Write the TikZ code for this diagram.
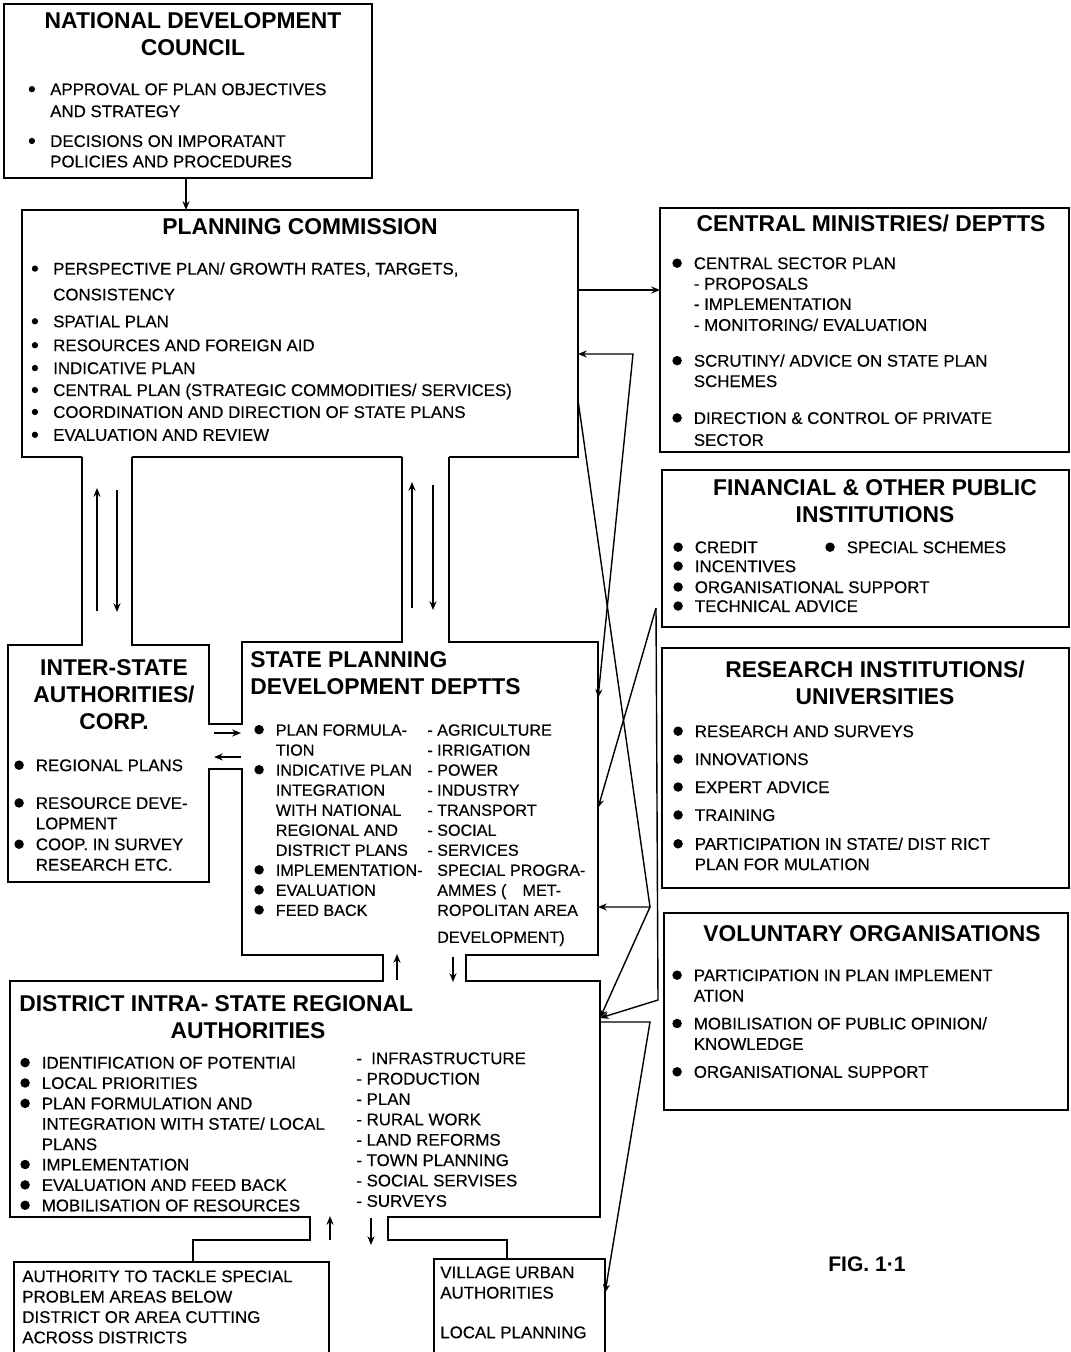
\documentclass[tikz,border=0pt]{standalone}
\usepackage{fontspec}
\setmainfont{Liberation Sans}
\newfontfamily\bodyfont{Liberation Sans}[FakeBold=0.35]
\usetikzlibrary{arrows.meta}

\newcommand\bul[1][2.7pt]{\makebox[0.43cm][l]{\tikz[baseline=-3.4pt]\fill (#1,0) circle (#1);}}
\newcommand\ind{\hspace*{0.43cm}}

\tikzset{
  box/.style={line width=1pt},
  ttl/.style={font=\fontsize{13}{15.3}\selectfont\bfseries, align=center, inner sep=0, anchor=north},
  txt/.style={font=\bodyfont\fontsize{9.6}{11.6}\selectfont, align=left, inner sep=0, anchor=north west},
  link/.style={line width=0.8pt, -{Stealth[length=5pt,width=4pt]}},
  twoway/.style={line width=0.8pt, {Stealth[length=5pt,width=4pt]}-{Stealth[length=5pt,width=4pt]}},
}

\begin{document}
\begin{tikzpicture}[x=0.02cm,y=-0.02cm]
\useasboundingbox (0,0) rectangle (1071,1352);

\draw[box] (4,4) rectangle (372,178);
\draw[box] (82,457) -- (22,457) -- (22,210) -- (578,210) -- (578,457) -- (449,457);
\draw[box] (132,457) -- (402,457);
\draw[box] (82,457) -- (82,645) -- (8,645) -- (8,882) -- (209,882) -- (209,769) -- (242,769) -- (242,955) -- (383,955) -- (383,981) -- (10,981) -- (10,1217) -- (310,1217) -- (310,1240) -- (193,1240) -- (193,1262);
\draw[box] (132,457) -- (132,645) -- (209,645) -- (209,724) -- (242,724) -- (242,642) -- (402,642) -- (402,457);
\draw[box] (449,457) -- (449,642) -- (598,642) -- (598,955) -- (466,955) -- (466,981) -- (600,981) -- (600,1217) -- (388,1217) -- (388,1240) -- (507,1240) -- (507,1259);
\draw[box] (14,1352) -- (14,1262) -- (329,1262) -- (329,1352);
\draw[box] (434,1352) -- (434,1259) -- (605,1259) -- (605,1352);
\draw[box] (660,208) rectangle (1069,452);
\draw[box] (662,470) rectangle (1069,627);
\draw[box] (662,648) rectangle (1069,888);
\draw[box] (664,913) rectangle (1068,1110);

\node[ttl] (ndcT) at (193,12) {NATIONAL DEVELOPMENT\\COUNCIL};
\node[txt] (ndcL) at (28.4,83) {\bul[1.8pt]APPROVAL OF PLAN OBJECTIVES\\[0.9pt]
  \ind AND STRATEGY\\[5.4pt]
  \bul[1.8pt]DECISIONS ON IMPORATANT\\
  \ind POLICIES AND PROCEDURES};

\node[ttl] (pcT) at (300,218) {PLANNING COMMISSION};
\node[txt] (pcL) at (31.4,262) {\bul[1.8pt]PERSPECTIVE PLAN/ GROWTH RATES, TARGETS,\\[3.1pt]
  \ind CONSISTENCY\\[3.7pt]
  \bul[1.8pt]SPATIAL PLAN\\[2pt]
  \bul[1.8pt]RESOURCES AND FOREIGN AID\\[1.4pt]
  \bul[1.8pt]INDICATIVE PLAN\\[0.9pt]
  \bul[1.8pt]CENTRAL PLAN (STRATEGIC COMMODITIES/ SERVICES)\\[0.9pt]
  \bul[1.8pt]COORDINATION AND DIRECTION OF STATE PLANS\\[1.4pt]
  \bul[1.8pt]EVALUATION AND REVIEW};

\node[ttl] (cmT) at (871,215) {CENTRAL MINISTRIES/ DEPTTS};
\node[txt] (cmL) at (672,257) {\bul CENTRAL SECTOR PLAN\\
  \ind - PROPOSALS\\
  \ind - IMPLEMENTATION\\[0.3pt]
  \ind - MONITORING/ EVALUATION\\[8.8pt]
  \bul SCRUTINY/ ADVICE ON STATE PLAN\\
  \ind SCHEMES\\[9.4pt]
  \bul DIRECTION \& CONTROL OF PRIVATE\\[0.9pt]
  \ind SECTOR};

\node[ttl] (finT) at (875,479) {FINANCIAL \& OTHER PUBLIC\\INSTITUTIONS};
\node[txt] (finL) at (673,541) {\bul\makebox[2.61cm][l]{CREDIT}\bul SPECIAL SCHEMES\\[-0.8pt]
  \bul INCENTIVES\\[0.3pt]
  \bul ORGANISATIONAL SUPPORT\\[-0.8pt]
  \bul TECHNICAL ADVICE};

\node[ttl] (resT) at (875,661) {RESEARCH INSTITUTIONS/\\UNIVERSITIES};
\node[txt] (resL) at (673,725) {\bul RESEARCH AND SURVEYS\\[4.3pt]
  \bul INNOVATIONS\\[4.3pt]
  \bul EXPERT ADVICE\\[4.3pt]
  \bul TRAINING\\[4.8pt]
  \bul PARTICIPATION IN STATE/ DIST RICT\\
  \ind PLAN FOR MULATION};

\node[ttl] (volT) at (872,925) {VOLUNTARY ORGANISATIONS};
\node[txt] (volL) at (672,969) {\bul PARTICIPATION IN PLAN IMPLEMENT\\
  \ind ATION\\[4.3pt]
  \bul MOBILISATION OF PUBLIC OPINION/\\
  \ind KNOWLEDGE\\[4.3pt]
  \bul ORGANISATIONAL SUPPORT};

\node[ttl] (isT) at (114,659) {INTER-STATE\\AUTHORITIES/\\CORP.};
\node[txt] (isL) at (14,759) {\bul REGIONAL PLANS\\[9.9pt]
  \bul RESOURCE DEVE-\\
  \ind LOPMENT\\[0.3pt]
  \bul COOP. IN SURVEY\\
  \ind RESEARCH ETC.};

\node[ttl, align=left, anchor=north west] (spT) at (250,651) {STATE PLANNING\\DEVELOPMENT DEPTTS};
\node[txt, font=\bodyfont\fontsize{9.2}{11.4}\selectfont] (spL) at (254,724) {\bul PLAN FORMULA-\\
  \ind TION\\
  \bul INDICATIVE PLAN\\
  \ind INTEGRATION\\
  \ind WITH NATIONAL\\
  \ind REGIONAL AND\\
  \ind DISTRICT PLANS\\
  \bul IMPLEMENTATION-\\
  \bul EVALUATION\\
  \bul FEED BACK};
\node[txt, font=\bodyfont\fontsize{9.2}{11.4}\selectfont] (spR) at (427,724) {- AGRICULTURE\\
  - IRRIGATION\\
  - POWER\\
  - INDUSTRY\\
  - TRANSPORT\\
  - SOCIAL\\
  - SERVICES\\
  \phantom{- }SPECIAL PROGRA-\\
  \phantom{- }AMMES (\quad MET-\\
  \phantom{- }ROPOLITAN AREA\\[3.9pt]
  \phantom{- }DEVELOPMENT)};

\node[ttl, anchor=north west] (dsT) at (19,995) {DISTRICT INTRA- STATE REGIONAL};
\node[ttl] (dsT2) at (248,1022) {AUTHORITIES};
\node[txt] (dsL) at (20,1056) {\bul IDENTIFICATION OF POTENTIAl\\
  \bul LOCAL PRIORITIES\\
  \bul PLAN FORMULATION AND\\
  \ind INTEGRATION WITH STATE/ LOCAL\\
  \ind PLANS\\
  \bul IMPLEMENTATION\\
  \bul EVALUATION AND FEED BACK\\
  \bul MOBILISATION OF RESOURCES};
\node[txt] (dsR) at (356,1052) {-\ \ INFRASTRUCTURE\\
  - PRODUCTION\\
  - PLAN\\
  - RURAL WORK\\
  - LAND REFORMS\\
  - TOWN PLANNING\\
  - SOCIAL SERVISES\\
  - SURVEYS};

\node[txt] (atL) at (22,1270) {AUTHORITY TO TACKLE SPECIAL\\
  PROBLEM AREAS BELOW\\
  DISTRICT OR AREA CUTTING\\
  ACROSS DISTRICTS};
\node[txt] (vlL) at (440,1266) {VILLAGE URBAN\\
  AUTHORITIES\\[11pt]
  LOCAL PLANNING};

\node[font=\fontsize{12}{14}\selectfont\bfseries] (fig) at (867,1264) {FIG. 1·1};

\foreach \n/\x/\y in {ndcS/186/178, pcN/186/210, pcE1/578/290, cmW/660/290,
    pcE2/578/354, k1/633/354, spE1/598/698, pcE3/578/400, k2/650/907, spE3/598/907,
    dsE1/600/1018, k3/656/608, spE2/598/808, k4/658/1000, dsE3/600/1022, k5/650/1022,
    vlE/605/1293, c1a/97/611, c1b/97/488, c1c/117/490, c1d/117/612,
    c2a/412/608, c2b/412/482, c2c/433/485, c2d/433/610,
    c3a/214/733, c3b/241/733, c3c/241/757, c3d/214/757,
    c4a/397/980, c4b/397/954, c4c/453/957, c4d/453/982,
    c5a/330/1240, c5b/330/1216, c5c/371/1218, c5d/371/1245}
  \coordinate (\n) at (\x,\y);

\draw[link] (ndcS) -- (pcN);
\draw[link] (pcE1) -- (cmW);
\draw[twoway] (spE1) -- (k1) -- (pcE2);
\draw[link] (pcE3) -- (k2) -- (spE3);
\draw[link] (k2) -- (dsE1);
\draw[link] (k3) -- (spE2);
\draw[link] (k3) -- (k4) -- (dsE1);
\draw[link] (dsE3) -- (k5) -- (vlE);
\draw[link] (c1a) -- (c1b);
\draw[link] (c1c) -- (c1d);
\draw[link] (c2a) -- (c2b);
\draw[link] (c2c) -- (c2d);
\draw[link] (c3a) -- (c3b);
\draw[link] (c3c) -- (c3d);
\draw[link] (c4a) -- (c4b);
\draw[link] (c4c) -- (c4d);
\draw[link] (c5a) -- (c5b);
\draw[link] (c5c) -- (c5d);
\end{tikzpicture}
\end{document}
